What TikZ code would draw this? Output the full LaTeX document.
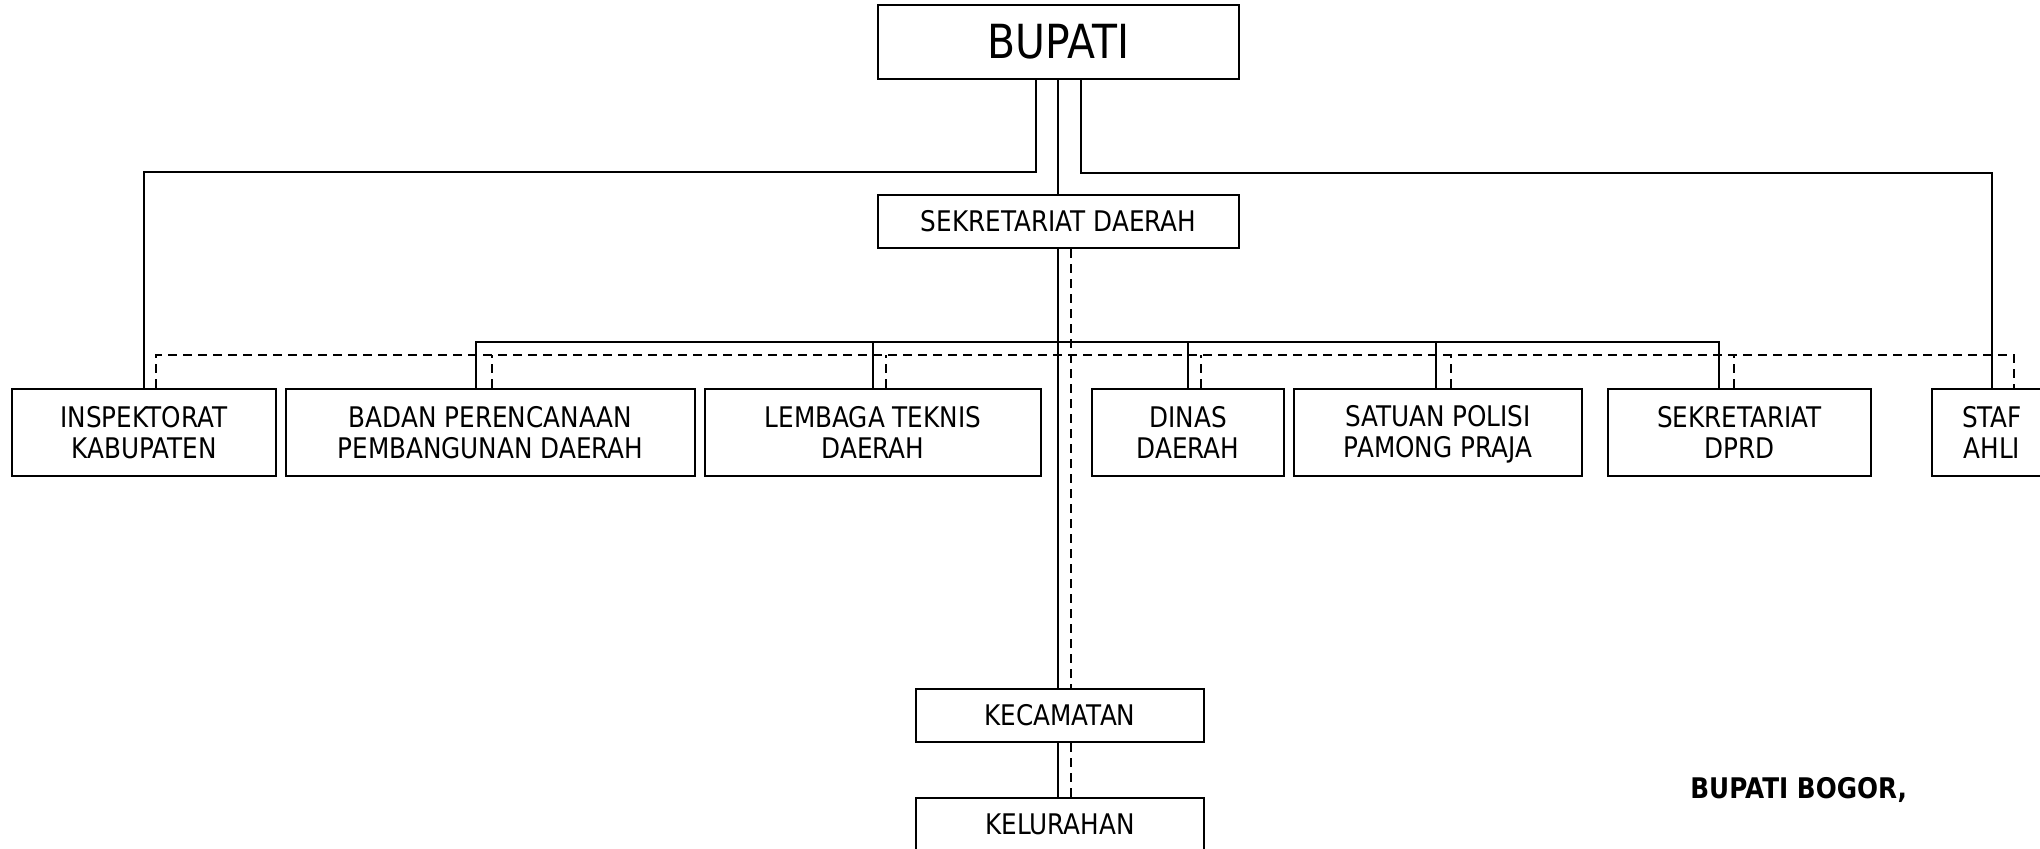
\documentclass[tikz,border=0pt]{standalone}
\usepackage{fontspec}
\setmainfont{DejaVu Sans}[FakeStretch=0.87]
\newcommand\lstrut{\rule[-1.6pt]{0pt}{13.6pt}}
\begin{document}
\begin{tikzpicture}[x=0.5pt,y=-0.5pt,
  box/.style={draw,line width=1.1pt,inner sep=0pt,align=center,font=\fontsize{14.2}{15.5}\selectfont},
  rowbox/.style={box,minimum height=43.5pt},
  smallbox/.style={box,minimum height=26.5pt},
  conn/.style={line width=0.9pt},
  dconn/.style={line width=0.9pt,dash pattern=on 4.5pt off 3pt}]
\useasboundingbox (0,0) rectangle (2040,849);
\begin{scope}
\clip (0,0) rectangle (2040,849);
% boxes
\node[box,minimum width=180.5pt,minimum height=37pt,font=\fontsize{23.5}{26}\selectfont] (bupati) at (1058.5,42) {BUPATI};
\node[smallbox,minimum width=180.5pt] (sekda) at (1058.5,221.5) {SEKRETARIAT DAERAH};
\node[rowbox,minimum width=132pt] (insp) at (144,432.5) {INSPEKTORAT\lstrut\\KABUPATEN\lstrut};
\node[rowbox,minimum width=204.5pt] (bappeda) at (490.5,432.5) {BADAN PERENCANAAN\lstrut\\PEMBANGUNAN DAERAH\lstrut};
\node[rowbox,minimum width=168pt] (lembaga) at (873,432.5) {LEMBAGA TEKNIS\lstrut\\DAERAH\lstrut};
\node[rowbox,minimum width=96pt] (dinas) at (1188,432.5) {DINAS\lstrut\\DAERAH\lstrut};
\node[rowbox,minimum width=144pt] (satpol) at (1438,432.5) {SATUAN POLISI\lstrut\\PAMONG PRAJA\lstrut};
\node[rowbox,minimum width=131.5pt] (dprd) at (1739.5,432.5) {SEKRETARIAT\lstrut\\DPRD\lstrut};
\node[rowbox,minimum width=60pt] (staf) at (1992,432.5) {STAF\lstrut\\AHLI\lstrut};
\node[smallbox,minimum width=144pt] (kec) at (1060,715.5) {KECAMATAN};
\node[smallbox,minimum width=144pt] (kel) at (1060,824.5) {KELURAHAN};
\node[anchor=base west,inner sep=0pt,font=\bfseries\fontsize{14.2}{16}\selectfont] (sign) at (1690,798) {BUPATI BOGOR,};
% coordinates
\coordinate (bl) at (1036,172);
\coordinate (br) at (1081,173);
\coordinate (sbus) at (1058,342);
\coordinate (dbus) at (1071,355);
\coordinate (mx) at (1058,0);
\coordinate (dx) at (1071,0);
% bupati connectors
\draw[conn] (bupati.south -| mx) -- (sekda.north -| mx);
\draw[conn] (bupati.south -| bl) -- (bl) -- (bl -| insp.north) -- (insp.north);
\draw[conn] (bupati.south -| br) -- (br) -- (br -| staf.north) -- (staf.north);
% main vertical
\draw[conn] (sekda.south -| mx) -- (kec.north -| mx);
\draw[conn] (kec.south -| mx) -- (kel.north -| mx);
\draw[dconn] (sekda.south -| dx) -- (kec.north -| dx);
\draw[dconn] (kec.south -| dx) -- (kel.north -| dx);
% solid bus
\draw[conn] ([xshift=-7.25pt]bappeda.north) |- (sbus) -| ([xshift=-10.25pt]dprd.north);
\draw[conn] (lembaga.north) -- (lembaga.north |- sbus);
\draw[conn] (dinas.north) -- (dinas.north |- sbus);
\draw[conn] ([xshift=-1pt]satpol.north) -- ([xshift=-1pt]satpol.north |- sbus);
% dashed bus
\draw[dconn] ([xshift=6pt]insp.north) |- (dbus) -| ([xshift=11pt]staf.north);
\draw[dconn] ([xshift=0.75pt]bappeda.north) -- ([xshift=0.75pt]bappeda.north |- dbus);
\draw[dconn] ([xshift=6.5pt]lembaga.north) -- ([xshift=6.5pt]lembaga.north |- dbus);
\draw[dconn] ([xshift=6.5pt]dinas.north) -- ([xshift=6.5pt]dinas.north |- dbus);
\draw[dconn] ([xshift=6.5pt]satpol.north) -- ([xshift=6.5pt]satpol.north |- dbus);
\draw[dconn] ([xshift=-2.75pt]dprd.north) -- ([xshift=-2.75pt]dprd.north |- dbus);
\end{scope}
\end{tikzpicture}
\end{document}
